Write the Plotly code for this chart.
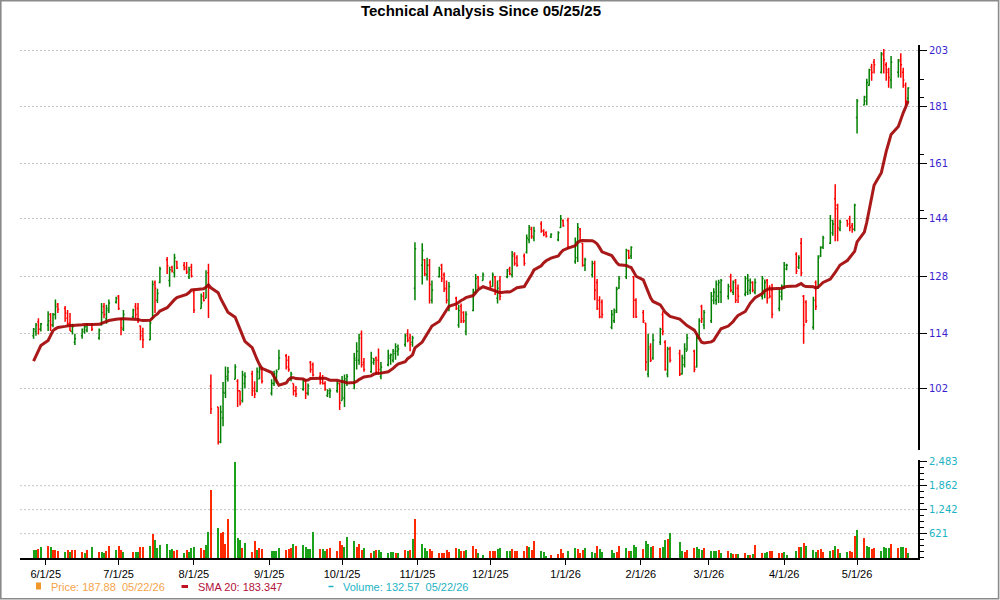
import pandas as pd
import plotly.graph_objects as go

# ---------------- data ----------------
holidays = ["2025-06-19", "2025-07-04", "2025-09-01", "2025-11-27", "2025-12-25",
            "2026-01-01", "2026-01-19", "2026-02-16", "2026-04-03"]
trade_days = [d for d in pd.bdate_range("2025-05-27", "2026-05-22")
              if d.strftime("%Y-%m-%d") not in holidays]

opens = [
    113.5, 114.5, 116.8, 115.0,
    116.0, 118.5, 116.0, 118.5, 121.0, 120.0, 117.6, 116.5, 114.5, 112.0, 113.5, 114.5, 114.8, 116.2, 113.0, 116.0, 120.5, 117.5, 119.5, 121.5,
    123.0, 117.5, 115.0, 118.0, 120.5, 120.0, 115.8, 114.5, 112.6, 117.5, 126.5, 122.0, 126.5, 132.5, 127.0, 130.5, 129.0, 132.0, 131.0, 130.5, 128.0, 130.5,
    124.0, 120.0, 123.0, 122.5, 129.0, 102.5, 98.2, 91.5, 96.0, 101.0, 104.0, 103.9, 103.5, 101.5, 99.5, 103.0, 105.0, 102.0, 101.5, 104.0, 106.0,
    101.0, 103.0, 104.0, 106.0, 109.0, 108.0, 104.0, 103.0, 101.5, 101.8, 103.5, 101.0, 107.5, 107.0, 104.5, 104.0, 103.0, 100.5, 101.0, 101.5, 103.0,
    99.5, 100.0, 103.5, 103.0, 108.0, 108.0, 114.0, 107.5, 105.5, 107.5, 108.5, 108.0, 104.5, 107.0, 108.5, 108.0, 109.5, 110.0, 111.5, 114.0, 113.0, 112.0, 125.0,
    131.0, 132.5, 128.5, 131.0, 122.0, 128.0, 131.0, 128.5, 125.0, 120.0, 122.5, 116.0, 120.5, 119.0, 114.5, 119.5, 124.0, 128.0, 127.0,
    126.5, 125.5, 128.0, 122.5, 127.0, 128.0, 130.0, 128.5, 134.0, 133.0, 133.5, 134.5, 138.0, 141.0, 138.5, 142.5, 140.5, 140.0, 138.8, 138.0, 141.5, 143.5,
    143.5, 132.0, 133.0, 141.0, 137.0, 131.0, 128.5, 131.5, 126.5, 122.0, 121.5, 115.5, 117.0, 119.5, 125.0, 128.0, 135.0, 133.5, 128.0, 122.0,
    119.0, 116.5, 105.0, 111.0, 108.5, 112.0, 118.5, 112.0, 105.0, 110.5, 109.5, 105.0, 107.0, 110.0, 110.0, 106.5, 113.0, 120.5, 116.0,
    117.0, 122.0, 122.0, 123.0, 124.0, 123.0, 128.0, 124.0, 127.0, 125.0, 123.5, 124.0, 124.5, 126.5, 124.0, 123.0, 124.0, 127.0, 125.0, 124.5, 120.0, 123.0,
    125.0, 130.0, 134.0, 130.5, 137.0, 123.0, 121.5, 115.5, 126.5, 125.0, 133.5, 136.0, 137.0, 140.0, 150.0, 148.0, 141.0, 143.5, 144.0, 142.0, 141.0,
    177.0, 181.5, 183.0, 189.0, 196.0, 198.0, 194.0, 201.0, 197.0, 194.0, 191.0, 194.0, 199.0, 194.0, 189.0, 184.0,
]
highs = [
    115.3, 116.5, 117.6, 116.5,
    119.3, 118.9, 118.9, 122.2, 121.3, 120.6, 119.6, 118.9, 116.3, 114.0, 115.2, 115.9, 116.5, 116.5, 115.2, 121.3, 121.3, 120.9, 122.2, 122.9,
    123.3, 117.7, 119.6, 119.9, 121.3, 121.3, 115.9, 115.4, 117.0, 127.0, 127.0, 124.9, 130.6, 133.2, 130.6, 130.9, 134.1, 132.2, 131.9, 131.9, 130.6, 131.4,
    124.9, 123.7, 124.1, 129.7, 131.4, 104.9, 98.2, 98.5, 103.3, 106.6, 106.5, 107.1, 103.9, 101.5, 105.7, 105.4, 105.7, 103.5, 106.4, 106.7, 106.5,
    103.9, 105.7, 106.0, 110.3, 109.4, 109.0, 105.5, 103.0, 102.5, 103.9, 103.9, 103.0, 107.8, 107.5, 105.4, 104.8, 103.5, 101.8, 102.0, 103.5, 103.2,
    104.6, 104.9, 105.0, 109.6, 112.0, 114.0, 114.7, 108.5, 109.9, 108.5, 108.8, 110.6, 107.6, 110.3, 109.5, 110.5, 111.8, 111.5, 114.0, 115.0, 114.0, 113.5, 137.3,
    137.0, 132.7, 133.0, 132.7, 127.0, 130.6, 131.4, 129.1, 127.0, 126.6, 122.9, 120.9, 121.2, 119.3, 119.3, 124.9, 128.7, 128.2, 129.1,
    127.0, 129.1, 128.2, 127.0, 128.2, 130.0, 130.6, 134.9, 134.5, 133.7, 134.2, 139.5, 142.2, 141.7, 141.7, 143.3, 141.0, 140.4, 139.8, 140.4, 145.1, 143.8,
    144.3, 138.6, 142.8, 141.3, 137.1, 133.0, 132.2, 132.2, 127.4, 123.0, 122.2, 119.6, 120.0, 125.4, 128.2, 135.5, 135.2, 136.2, 128.2, 122.5,
    119.6, 116.5, 114.0, 111.8, 114.0, 115.4, 119.3, 112.5, 111.0, 111.0, 110.3, 109.2, 111.8, 114.0, 110.3, 114.0, 117.6, 120.9, 119.6,
    124.1, 125.0, 127.0, 127.2, 127.4, 126.2, 128.8, 127.0, 127.4, 126.0, 128.2, 128.7, 127.5, 126.8, 127.5, 128.2, 127.3, 127.4, 125.8, 126.2, 124.9, 126.0,
    131.9, 131.4, 134.5, 133.7, 138.5, 123.3, 122.0, 122.9, 127.0, 133.7, 136.2, 139.1, 145.1, 143.7, 154.5, 148.5, 143.7, 143.7, 144.9, 142.8, 148.5,
    183.7, 185.0, 191.5, 195.4, 197.4, 199.3, 202.2, 203.4, 198.0, 195.8, 200.5, 199.3, 201.7, 195.8, 190.0, 188.2,
]
lows = [
    112.8, 113.5, 113.8, 114.5,
    114.6, 114.6, 115.5, 117.3, 118.9, 116.8, 115.9, 114.6, 113.8, 111.4, 112.8, 114.0, 114.3, 114.6, 112.6, 115.9, 117.6, 116.3, 118.9, 121.2,
    119.6, 113.6, 114.6, 117.6, 117.6, 116.5, 112.5, 110.7, 112.5, 117.5, 118.9, 121.3, 126.3, 128.7, 125.4, 129.1, 127.8, 130.0, 129.7, 128.7, 127.4, 127.8,
    118.9, 120.0, 121.7, 122.5, 117.7, 96.8, 91.0, 91.2, 94.4, 100.0, 103.4, 103.9, 98.2, 98.5, 99.1, 102.0, 100.4, 100.0, 101.2, 103.9, 103.0,
    100.5, 102.5, 103.0, 106.0, 106.0, 105.5, 103.5, 100.5, 100.2, 101.5, 99.8, 100.5, 105.3, 104.5, 102.8, 102.8, 101.5, 100.2, 100.0, 101.1, 97.6,
    99.5, 98.2, 102.5, 101.8, 106.0, 107.0, 106.4, 105.5, 105.3, 107.0, 104.9, 104.9, 103.9, 106.7, 107.0, 107.5, 108.1, 109.0, 111.0, 112.0, 110.0, 111.0, 122.0,
    126.0, 128.2, 127.0, 121.2, 121.2, 127.8, 126.6, 124.1, 121.2, 119.3, 119.6, 115.4, 116.5, 116.5, 113.6, 119.3, 123.7, 124.9, 127.0,
    125.0, 125.4, 123.3, 121.2, 122.0, 127.6, 128.4, 127.8, 130.9, 130.6, 130.9, 134.2, 137.0, 138.3, 137.6, 140.0, 139.0, 138.6, 138.5, 137.6, 141.3, 141.7,
    135.5, 131.4, 131.9, 137.6, 130.6, 129.5, 127.8, 122.0, 119.6, 117.6, 117.6, 115.0, 116.5, 118.9, 124.9, 127.4, 132.7, 132.7, 117.7, 117.7,
    116.5, 105.7, 104.3, 107.6, 108.1, 111.4, 113.6, 105.7, 104.3, 107.5, 104.6, 104.9, 106.4, 110.1, 105.4, 106.4, 112.9, 116.5, 115.0,
    116.5, 121.0, 120.9, 121.3, 121.3, 122.2, 124.0, 123.3, 121.3, 121.3, 123.0, 123.3, 123.5, 124.0, 123.5, 122.2, 122.5, 121.2, 122.5, 117.6, 119.3, 122.0,
    124.9, 129.7, 128.7, 130.0, 128.2, 111.7, 116.5, 114.9, 119.6, 124.9, 133.2, 135.4, 136.8, 139.1, 137.6, 137.6, 140.4, 141.7, 140.4, 140.0, 140.4,
    171.3, 181.4, 181.4, 188.8, 190.7, 193.5, 193.5, 193.5, 190.7, 188.0, 187.7, 192.0, 191.9, 188.0, 181.4, 182.4,
]
closes = [
    115.0, 116.0, 115.0, 116.3,
    117.0, 116.0, 118.5, 120.5, 119.8, 118.8, 116.3, 114.6, 115.6, 112.8, 115.0, 115.6, 116.2, 115.0, 114.8, 119.0, 118.5, 120.0, 121.3, 122.5,
    120.0, 115.4, 118.5, 119.6, 118.5, 117.0, 113.5, 112.6, 116.5, 126.0, 125.0, 123.7, 130.0, 130.9, 129.8, 129.5, 133.0, 130.3, 130.0, 129.2, 129.8, 128.2,
    119.6, 121.3, 122.0, 125.4, 125.0, 97.8, 91.4, 97.2, 101.2, 104.5, 105.5, 106.5, 101.5, 99.0, 104.8, 104.5, 101.5, 100.8, 105.5, 106.0, 103.5,
    103.0, 105.0, 105.5, 108.5, 106.5, 106.0, 105.0, 101.5, 100.8, 103.5, 101.0, 102.5, 106.0, 104.8, 103.2, 103.0, 101.8, 101.5, 101.5, 103.0, 99.0,
    103.5, 104.0, 104.5, 108.5, 110.0, 113.0, 107.0, 106.0, 108.5, 108.0, 105.5, 106.0, 106.5, 109.0, 109.2, 110.0, 111.0, 110.5, 113.5, 112.5, 111.5, 113.0, 135.5,
    135.0, 128.8, 131.0, 126.0, 124.5, 130.0, 127.5, 124.8, 122.0, 125.5, 120.0, 119.5, 117.0, 117.0, 118.5, 124.0, 127.5, 125.5, 128.5,
    125.5, 128.5, 124.0, 125.0, 123.0, 129.5, 128.8, 133.5, 131.5, 131.0, 131.5, 138.5, 141.5, 139.0, 140.5, 140.5, 139.5, 139.0, 139.5, 140.0, 144.0, 142.0,
    135.8, 137.5, 141.5, 138.0, 131.0, 132.5, 131.5, 124.5, 120.0, 118.0, 118.5, 118.5, 119.0, 124.8, 127.5, 135.0, 133.0, 135.8, 122.0, 118.0,
    117.0, 107.6, 110.5, 108.0, 112.5, 115.0, 114.5, 106.0, 110.5, 108.0, 105.0, 108.5, 110.5, 113.0, 106.0, 113.0, 117.0, 117.5, 119.0,
    123.0, 124.0, 126.0, 126.5, 127.0, 125.5, 124.5, 126.5, 122.0, 123.0, 127.5, 127.0, 126.5, 124.5, 126.5, 127.5, 126.5, 122.5, 123.0, 118.5, 124.0, 125.5,
    131.0, 131.0, 129.5, 133.0, 129.0, 116.0, 117.0, 122.0, 120.5, 133.0, 135.8, 138.5, 143.5, 142.5, 147.0, 141.4, 143.0, 142.5, 141.5, 141.0, 148.0,
    183.0, 184.5, 190.0, 195.0, 194.0, 197.0, 201.5, 199.0, 195.0, 192.0, 198.0, 198.5, 197.0, 191.0, 183.0, 187.88,
]
# closes of the 19 sessions before the first bar (feed the SMA 20 start)
prior_closes = [92.0, 93.0, 93.0, 94.0, 94.0, 95.0, 112.0, 113.0, 114.0, 113.0,
                114.0, 115.0, 113.0, 112.0, 114.0, 115.0, 116.0, 114.0, 115.0]

volumes = [
    210, 210, 235, 277,
    310, 277, 210, 210, 176, 151, 210, 151, 210, 210, 160, 126, 210, 277, 160, 160, 134, 184, 310, 210,
    302, 210, 151, 151, 151, 151, 277, 277, 293, 603, 461, 260, 335, 352, 210, 226, 168, 210, 109, 210, 151, 251,
    277, 251, 193, 327, 654, 1760, 780, 630, 654, 352, 1005, 2480, 520, 461, 251, 377, 151, 427, 210, 251, 235,
    176, 176, 176, 251, 210, 235, 251, 352, 302, 327, 277, 235, 226, 654, 235, 235, 176, 226, 251, 176, 427,
    335, 277, 545, 436, 277, 352, 210, 251, 126, 176, 210, 210, 151, 126, 151, 151, 109, 126, 210, 168, 210, 478, 1005,
    352, 251, 176, 235, 176, 126, 126, 126, 210, 151, 251, 235, 176, 176, 210, 310, 226, 126, 75,
    184, 184, 184, 226, 251, 184, 168, 226, 168, 184, 184, 310, 285, 210, 436, 184, 159, 34, 59, 84, 226, 126,
    184, 251, 226, 126, 210, 251, 159, 117, 310, 226, 159, 210, 117, 159, 310, 251, 184, 184, 327, 285,
    226, 436, 352, 285, 310, 243, 285, 453, 478, 637, 410, 184, 159, 210, 251, 277, 226, 201, 251,
    184, 184, 184, 201, 126, 184, 126, 101, 101, 101, 126, 75, 75, 101, 327, 126, 126, 142, 184, 184, 126, 126,
    159, 75, 184, 277, 277, 377, 302, 201, 159, 210, 226, 159, 184, 210, 310, 226, 126, 159, 184, 159, 562,
    712, 503, 310, 285, 226, 251, 184, 277, 251, 251, 352, 251, 285, 285, 251, 132.57,
]
volume_dir = "".join([
    "GGRG",
    "RGRRRGRGRRRGRGRGGRRG",
    "RRGRGGRRGRGGGGGGRRGRGG",
    "GRRGGRGRRRRGGGRGRRGRR",
    "GGGGRRRGRGGGGGRGGRRRR",
    "RGGGRRRGRGRGGGGGRGRGRGR",
    "GGGRRRRRRRRGRRGRRGG",
    "RRRGGGGRRRRRGRRGGGRRRR",
    "GGRRRGGGRGGGGRRGRGGG",
    "RGGGRRGGRGGGRRRGGGR",
    "GGGRGRGRRGRGRGRRGGRRRR",
    "GGGRGRGGGRRRGRGRGGRRR",
    "GRGGRRGGGGRRGGRG",
])

month_ticks = ["2025-06-01", "2025-07-01", "2025-08-01", "2025-09-01", "2025-10-01", "2025-11-01",
               "2025-12-01", "2026-01-01", "2026-02-01", "2026-03-01", "2026-04-01", "2026-05-01"]
month_labels = ["6/1/25", "7/1/25", "8/1/25", "9/1/25", "10/1/25", "11/1/25",
                "12/1/25", "1/1/26", "2/1/26", "3/1/26", "4/1/26", "5/1/26"]
price_ticks = [102, 114, 128, 144, 161, 181, 203]
price_minor_ticks = [146.6, 164.2, 184.4, 191.0]
volume_ticks = [621, 1242, 1862, 2483]
volume_labels = ["621", "1,242", "1,862", "2,483"]

assert len(trade_days) == len(opens) == len(highs) == len(lows) == len(closes) == len(volumes) == len(volume_dir)

sma20 = (pd.Series(prior_closes + closes).rolling(20).mean()
         .iloc[len(prior_closes):].tolist())

# ---------------- layout helpers ----------------
W, H = 1000, 600
ML, MR, MT, MB = 20, 82, 45, 42
PW, PH = W - ML - MR, H - MT - MB


def px_x(px):
    return (px - ML) / PW


def px_y(py):
    return (H - MB - py) / PH


GREEN, RED = "#008000", "#ff0000"
VGREEN, VRED = "#1aa31a", "#ff2a00"
ORANGE, SMA_RED, TEAL = "#f5a34a", "#b0103a", "#1db3c4"
GRID = "#c4c4c4"

fig = go.Figure()

fig.add_trace(go.Ohlc(
    x=trade_days, open=opens, high=highs, low=lows, close=closes,
    increasing=dict(line=dict(color=GREEN, width=1.5)),
    decreasing=dict(line=dict(color=RED, width=1.5)),
    tickwidth=0.5, xaxis="x", yaxis="y", showlegend=False, hoverinfo="skip",
))

fig.add_trace(go.Scatter(
    x=trade_days, y=sma20, mode="lines",
    line=dict(color="rgba(160,0,0,0.9)", width=3),
    xaxis="x", yaxis="y", showlegend=False, hoverinfo="skip",
))

fig.add_trace(go.Bar(
    x=trade_days, y=volumes,
    marker=dict(color=[VGREEN if c == "G" else VRED for c in volume_dir], line=dict(width=0)),
    width=0.42 * 86400000, xaxis="x2", yaxis="y2", showlegend=False, hoverinfo="skip",
))

x_range = ["2025-05-21 10:00", "2026-05-26 02:00"]

shapes = []
# volume grid lines
for v in volume_ticks[:-1]:
    shapes.append(dict(type="line", xref="x2 domain", yref="y2", x0=0, x1=1, y0=v, y1=v,
                       line=dict(color=GRID, width=1, dash="2px,2px"), layer="below"))
# outer frame
shapes.append(dict(type="rect", xref="paper", yref="paper",
                   x0=px_x(0.8), x1=px_x(998.6), y0=px_y(598.8), y1=px_y(0.8),
                   line=dict(color="#8a8a8a", width=1.6)))
# legend markers
shapes.append(dict(type="rect", xref="paper", yref="paper",
                   x0=px_x(36), x1=px_x(41), y0=px_y(589.5), y1=px_y(582.5),
                   fillcolor="#f0962a", line=dict(width=0)))
shapes.append(dict(type="line", xref="paper", yref="paper",
                   x0=px_x(181.5), x1=px_x(188), y0=px_y(586.5), y1=px_y(586.5),
                   line=dict(color="#c01020", width=3)))
shapes.append(dict(type="line", xref="paper", yref="paper",
                   x0=px_x(328.5), x1=px_x(333.5), y0=px_y(586.5), y1=px_y(586.5),
                   line=dict(color=TEAL, width=1.5)))

legend_font = dict(family="Liberation Sans, Arial, sans-serif", size=11)
annotations = [
    dict(text="Price: 187.88\u00a0\u00a005/22/26", x=px_x(49), y=px_y(587),
         font=dict(color=ORANGE, **legend_font)),
    dict(text="SMA 20: 183.347", x=px_x(195.5), y=px_y(587),
         font=dict(color=SMA_RED, **legend_font)),
    dict(text="Volume: 132.57\u00a0\u00a005/22/26", x=px_x(340.5), y=px_y(587),
         font=dict(color=TEAL, **legend_font)),
]
for a in annotations:
    a.update(xref="paper", yref="paper", xanchor="left", yanchor="middle", showarrow=False)

fig.update_layout(
    width=W, height=H,
    margin=dict(l=ML, r=MR, t=MT, b=MB, pad=0),
    paper_bgcolor="white", plot_bgcolor="white",
    showlegend=False,
    bargap=0,
    title=dict(text="<b>Technical Analysis Since 05/25/25</b>",
               font=dict(family="Liberation Sans Narrow, Liberation Sans, Arial, sans-serif",
                         size=15, color="black"),
               x=0.481, xanchor="center", xref="container",
               y=1 - 10.5 / H, yanchor="middle", yref="container"),
    xaxis=dict(domain=[0, 1], anchor="y", type="date", range=x_range, matches="x2",
               showticklabels=False, showgrid=False, zeroline=False, showline=False,
               ticks="", rangeslider=dict(visible=False), automargin=False),
    xaxis2=dict(domain=[0, 1], anchor="y2", type="date", range=x_range,
                tickmode="array", tickvals=month_ticks, ticktext=month_labels,
                ticks="outside", ticklen=5, tickwidth=1, tickcolor="black",
                tickfont=dict(family="Liberation Sans, Arial, sans-serif", size=11, color="black"),
                showgrid=False, zeroline=False, showline=True, linecolor="black", linewidth=2,
                automargin=False),
    yaxis=dict(domain=[px_y(450), 1], anchor="x", type="log", range=[1.95409, 2.31192],
               side="right", tickmode="array", tickvals=price_ticks,
               ticktext=[str(v) for v in price_ticks],
               ticks="outside", ticklen=7, tickwidth=1.2, tickcolor="black",
               tickfont=dict(family="DejaVu Sans, Verdana, sans-serif", size=10, color="#3a1fd0"),
               showline=True, linecolor="black", linewidth=2,
               showgrid=True, gridcolor=GRID, gridwidth=1, griddash="2px,2px",
               zeroline=False, automargin=False,
               minor=dict(tickmode="array", tickvals=price_minor_ticks, ticks="outside",
                          ticklen=4, tickwidth=1.2, tickcolor="black", showgrid=False)),
    yaxis2=dict(domain=[0, px_y(460)], anchor="x2", range=[-8, 2527],
                side="right", tickmode="array", tickvals=volume_ticks, ticktext=volume_labels,
                ticks="outside", ticklen=7, tickwidth=1.2, tickcolor="black",
                tickfont=dict(family="DejaVu Sans, Verdana, sans-serif", size=10, color=TEAL),
                showline=True, linecolor="black", linewidth=2,
                showgrid=False, zeroline=False, automargin=False,
                minor=dict(tickmode="linear", tick0=0, dtick=155.25, ticks="outside",
                           ticklen=4, tickwidth=1.2, tickcolor="black", showgrid=False)),
    shapes=shapes,
    annotations=annotations,
)

fig.write_html("out.html", config={"displayModeBar": False},
               post_script="document.body.style.margin='0';")
